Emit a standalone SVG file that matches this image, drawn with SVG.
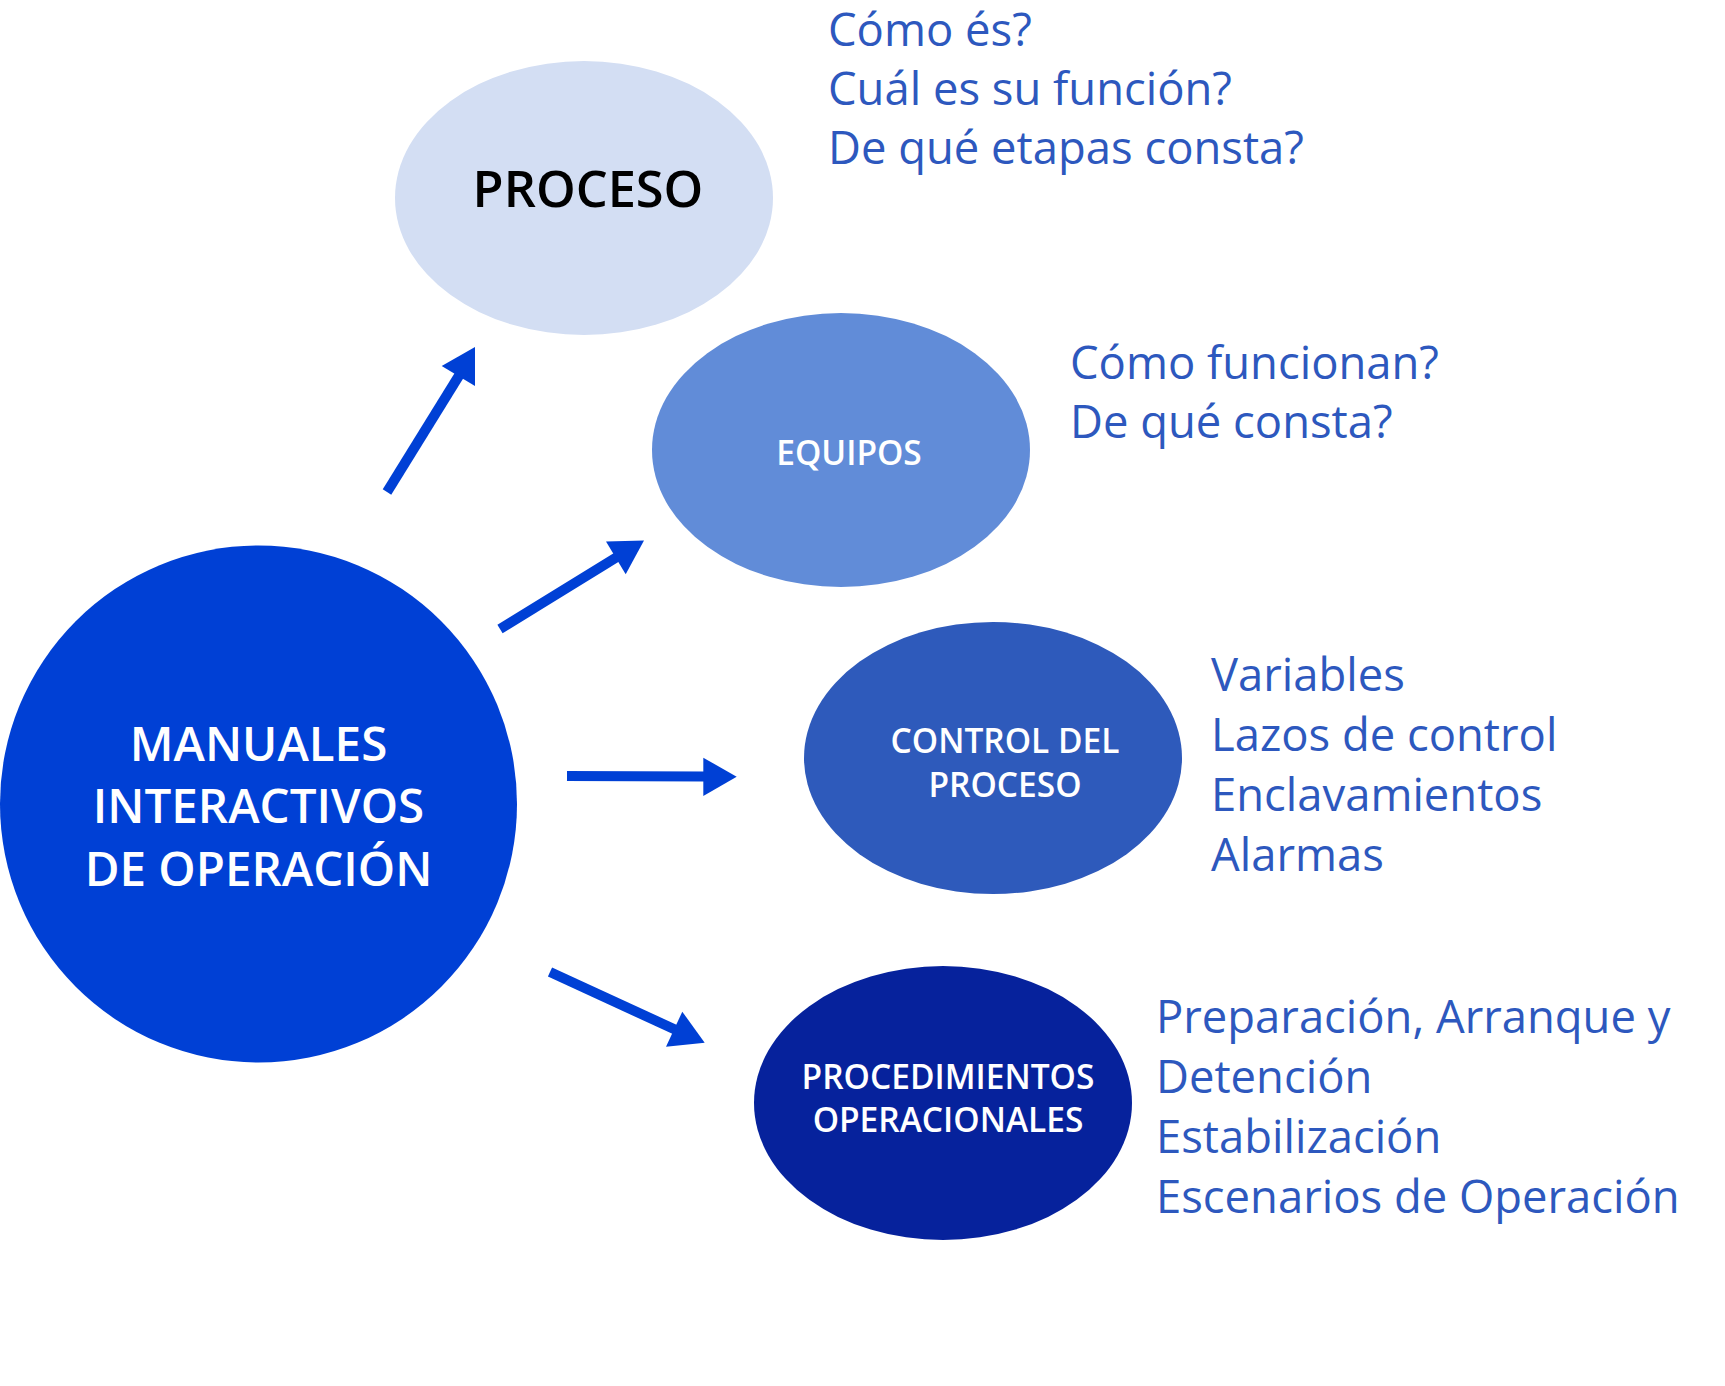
<svg xmlns="http://www.w3.org/2000/svg" width="1725" height="1386" viewBox="0 0 1725 1386">
<style>
.lbl{font-family:"Open Sans","Noto Sans","Liberation Sans",sans-serif;font-weight:600;text-anchor:middle}
.side{font-family:"Open Sans","Noto Sans","Liberation Sans",sans-serif;font-size:45.4px;fill:#2D58BE}
.ln{stroke:#0040D5;stroke-width:10;fill:none}
.hd{fill:#0040D5}
</style>
<rect width="1725" height="1386" fill="#FFFFFF"/>
<g id="proceso">
<ellipse cx="584" cy="198" rx="189" ry="137" fill="#D3DEF3"/>
<text class="lbl" x="588" y="207" font-size="50.5" font-weight="700" fill="#000000">PROCESO</text>
</g>
<g id="proceso-notes">
<text class="side" x="828" y="46">Cómo és?</text>
<text class="side" x="828" y="105">Cuál es su función?</text>
<text class="side" x="828" y="164">De qué etapas consta?</text>
</g>
<g id="equipos">
<ellipse cx="841" cy="450" rx="189" ry="137" fill="#618CD8"/>
<text class="lbl" x="849" y="465" font-size="33.5" fill="#FFFFFF">EQUIPOS</text>
</g>
<g id="equipos-notes">
<text class="side" x="1070" y="379">Cómo funcionan?</text>
<text class="side" x="1070" y="438">De qué consta?</text>
</g>
<g id="control">
<ellipse cx="993" cy="758" rx="189" ry="136" fill="#2E5ABB"/>
<text class="lbl" x="1005" y="753" font-size="33.5" fill="#FFFFFF">CONTROL DEL</text>
<text class="lbl" x="1005" y="797" font-size="33.5" fill="#FFFFFF">PROCESO</text>
</g>
<g id="control-notes">
<text class="side" x="1211" y="691">Variables</text>
<text class="side" x="1211" y="751">Lazos de control</text>
<text class="side" x="1211" y="811">Enclavamientos</text>
<text class="side" x="1211" y="871">Alarmas</text>
</g>
<g id="procedimientos">
<ellipse cx="943" cy="1103" rx="189" ry="137" fill="#06229C"/>
<text class="lbl" x="948" y="1089" font-size="33.5" fill="#FFFFFF">PROCEDIMIENTOS</text>
<text class="lbl" x="948" y="1132" font-size="33.5" fill="#FFFFFF">OPERACIONALES</text>
</g>
<g id="procedimientos-notes">
<text class="side" x="1156" y="1033">Preparación, Arranque y</text>
<text class="side" x="1156" y="1093">Detención</text>
<text class="side" x="1156" y="1153">Estabilización</text>
<text class="side" x="1156" y="1213">Escenarios de Operación</text>
</g>
<g id="manuales">
<circle cx="258.5" cy="804" r="258.5" fill="#0040D5"/>
<text class="lbl" x="258.5" y="761" font-size="47.5" fill="#FFFFFF">MANUALES</text>
<text class="lbl" x="258.5" y="823" font-size="47.5" fill="#FFFFFF">INTERACTIVOS</text>
<text class="lbl" x="258.5" y="886" font-size="47.5" fill="#FFFFFF">DE OPERACIÓN</text>
</g>
<g id="connectors">
<line class="ln" x1="387" y1="492" x2="460" y2="374"/>
<polygon class="hd" points="441.7,366 475,347 475,386"/>
<line class="ln" x1="500" y1="629" x2="617" y2="557"/>
<polygon class="hd" points="606,541.5 644,540.5 625.7,574.3"/>
<line class="ln" x1="567" y1="776" x2="705" y2="776.5"/>
<polygon class="hd" points="703.3,757.7 736.7,776.7 703.3,796"/>
<line class="ln" x1="550" y1="972" x2="676" y2="1030"/>
<polygon class="hd" points="682.3,1011.7 704.7,1042.7 666,1046.7"/>
</g>
</svg>
